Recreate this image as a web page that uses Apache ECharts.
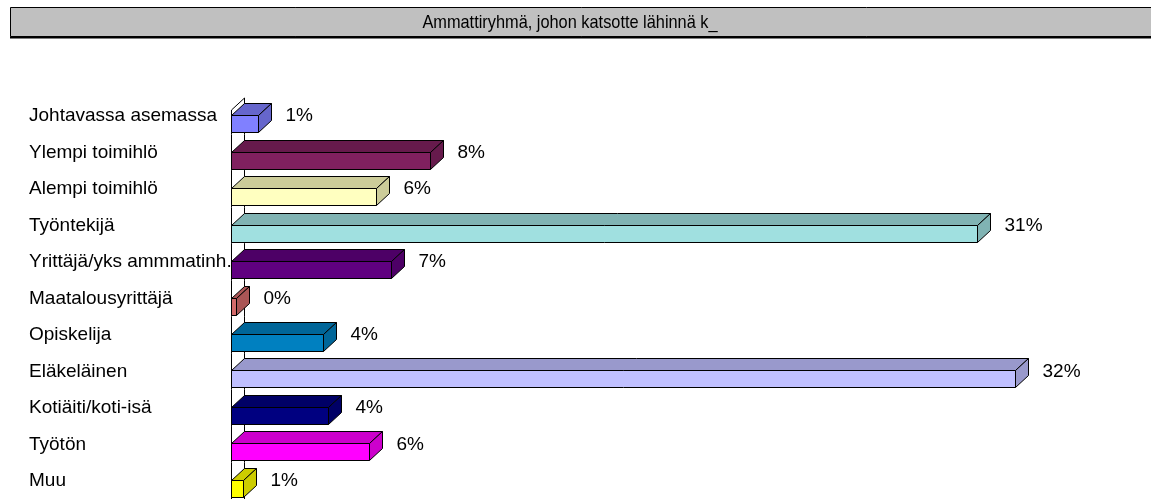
<!DOCTYPE html>
<html>
<head>
<meta charset="utf-8">
<script src="https://cdn.jsdelivr.net/npm/echarts@6/dist/echarts.min.js"></script>
<style>
  html, body { margin: 0; padding: 0; background: #fff; }
  #ammattiryhma { width: 1151px; height: 499px; }
</style>
</head>
<body>
<div id="ammattiryhma"></div>
<script>
// Otsikko ja luokat
const otsikko = "Ammattiryhmä, johon katsotte lähinnä k_";
const ryhmat = [
  "Johtavassa asemassa",
  "Ylempi toimihlö",
  "Alempi toimihlö",
  "Työntekijä",
  "Yrittäjä/yks ammmatinh.",
  "Maatalousyrittäjä",
  "Opiskelija",
  "Eläkeläinen",
  "Kotiäiti/koti-isä",
  "Työtön",
  "Muu"
];
// Osuudet prosentteina (luettu kuvasta)
const osuudet = [1.1, 8.2, 6.0, 30.8, 6.6, 0.2, 3.8, 32.4, 4.0, 5.7, 0.5];

// Värit: etupinta ja varjostettu yläpinta/sivu
const etuVarit = ["#8080ff", "#80205f", "#ffffc0", "#a0e0e0", "#600080", "#d46a6a",
                  "#0080c0", "#c0c0ff", "#000080", "#ff00ff", "#ffff00"];
const sivuVarit = ["#6666cc", "#661a4c", "#cccc99", "#80b3b3", "#4d0066", "#aa5555",
                   "#006699", "#9999cc", "#000066", "#cc00cc", "#cccc00"];

const FONTTI = "Arial, 'Liberation Sans', sans-serif";
const DX = 13; // syvyys sivulle
const DY = 12; // syvyys ylös

var myChart = echarts.init(document.getElementById("ammattiryhma"));

function piirraPalkki(params, api) {
  const i = api.value(0);
  const arvo = api.value(1);
  const alku = api.coord([0, i]);
  const loppu = api.coord([arvo, i]);
  const kaista = api.size([0, 1])[1];
  const c = alku[1];
  const x0 = Math.round(alku[0]) + 0.5;
  const x1 = Math.round(loppu[0]) + 0.5;
  const etuYla = Math.round(c - 1) + 0.5;
  const etuAla = Math.round(c + 16) + 0.5;
  const ylaReuna = c - kaista / 2;
  const alaReuna = c + kaista / 2;
  const viiva = { stroke: "#000", lineWidth: 1 };
  const lapset = [];

  // seinän viivat
  lapset.push({ type: "line", shape: { x1: x0 + DX, y1: ylaReuna, x2: x0 + DX, y2: alaReuna }, style: viiva });
  lapset.push({ type: "line", shape: { x1: x0, y1: i === 0 ? ylaReuna + DY : ylaReuna, x2: x0, y2: alaReuna }, style: viiva });
  if (i === 0) {
    lapset.push({ type: "line", shape: { x1: x0, y1: ylaReuna + DY, x2: x0 + DX, y2: ylaReuna }, style: viiva });
  }

  // yläpinta
  lapset.push({
    type: "polygon",
    shape: { points: [[x0, etuYla], [x0 + DX, etuYla - DY], [x1 + DX, etuYla - DY], [x1, etuYla]] },
    style: { fill: sivuVarit[i], stroke: "#000", lineWidth: 1 }
  });
  // sivu
  lapset.push({
    type: "polygon",
    shape: { points: [[x1, etuYla], [x1 + DX, etuYla - DY], [x1 + DX, etuAla - DY], [x1, etuAla]] },
    style: { fill: sivuVarit[i], stroke: "#000", lineWidth: 1 }
  });
  // etupinta
  lapset.push({
    type: "rect",
    shape: { x: x0, y: etuYla, width: x1 - x0, height: etuAla - etuYla },
    style: { fill: etuVarit[i], stroke: "#000", lineWidth: 1 }
  });
  // arvo
  lapset.push({
    type: "text",
    style: {
      x: x1 + DX + 14, y: c,
      text: Math.round(arvo) + "%",
      fill: "#000", font: "19px " + FONTTI,
      align: "left", verticalAlign: "middle"
    }
  });
  return { type: "group", children: lapset };
}

var option = {
  animation: false,
  graphic: [
    {
      type: "rect",
      shape: { x: 10.5, y: 7.5, width: 1160, height: 29 },
      style: { fill: "#c0c0c0", stroke: "#000", lineWidth: 1 }
    },
    {
      type: "line",
      shape: { x1: 10, y1: 37.5, x2: 1151, y2: 37.5 },
      style: { stroke: "#000", lineWidth: 2 }
    },
    {
      type: "text",
      x: 570, y: 23,
      scaleX: 0.86,
      style: {
        x: 0, y: 0,
        text: otsikko, fill: "#000",
        font: "19px " + FONTTI,
        align: "center", verticalAlign: "middle"
      }
    }
  ],
  grid: { left: 231, right: 0, top: 98, height: 411 },
  xAxis: { type: "value", min: 0, max: 38, show: false },
  yAxis: {
    type: "category",
    inverse: true,
    data: ryhmat,
    axisLine: { show: false },
    axisTick: { show: false },
    axisLabel: {
      align: "left",
      margin: 202,
      color: "#000",
      fontSize: 19,
      fontFamily: FONTTI
    }
  },
  series: [
    {
      type: "custom",
      renderItem: piirraPalkki,
      encode: { x: 1, y: 0 },
      data: osuudet.map((v, i) => [i, v])
    }
  ]
};

myChart.setOption(option);
</script>
</body>
</html>
